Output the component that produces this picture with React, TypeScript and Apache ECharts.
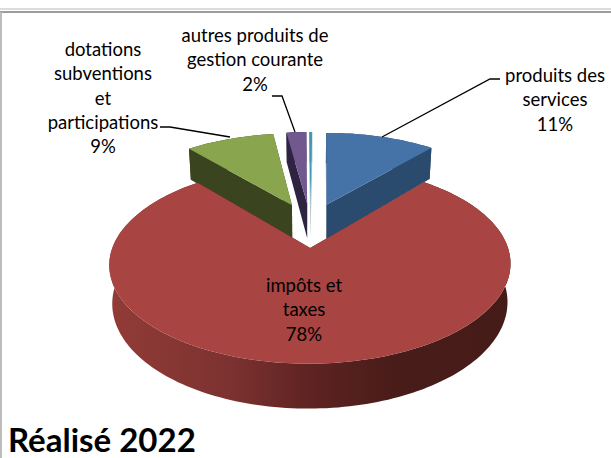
import React, { useEffect, useRef } from "react";
import * as echarts from "echarts";

const titleText = "Réalisé 2022";
const categories = [
  "produits des\nservices",
  "impôts et\ntaxes",
  "dotations\nsubventions\net\nparticipations",
  "autres produits de\ngestion courante",
  "",
];
const values = [11.1, 77.7, 8.9, 2.0, 0.3];
const topColors = ["#4572A7", "#A84441", "#89A54E", "#71588F", "#4198AF"];
const wallColors = ["#2A4A6E", "#4A1C19", "#3A451F", "#2E2340", "#9fb4bd"];

// Layout of the drawing (not data)
const view = { cx: 310, cy: 224.8, K: 190, Q: 89, p: 0.159, explode: 0.25, depth: 36, shrink: 0.985, skew: 1.7 };
const labelBoxes = [
  { x: 555, y: 75 },
  { x: 304, y: 285 },
  { x: 103, y: 49 },
  { x: 255, y: 35 },
];
const leaders = [
  [[500, 79], [490, 79], [382, 137]],
  null,
  [[160, 127], [170, 127], [230, 137]],
  [[272, 96], [282, 96], [295, 132]],
  null,
];
const lineHeight = 24.3;
const fontFamily = "Lato, Carlito, sans-serif";

const project = (X: number, Y: number, low: boolean) => {
  const w = 1 - view.p * Y;
  const s = low ? view.shrink : 1;
  return [
    view.cx + (s * view.K * X) / w + view.skew * (0.25 - Y),
    view.cy + (view.Q * Y) / w + (low ? view.depth / w : 0),
  ];
};

function renderSlice(params: any) {
  const i = params.dataIndex;
  const total = values.reduce((a, b) => a + b, 0);
  let before = 0;
  for (let k = 0; k < i; k++) before += values[k];
  const a0 = (before / total) * Math.PI * 2;
  const a1 = ((before + values[i]) / total) * Math.PI * 2;
  const mid = (a0 + a1) / 2;
  const ox = Math.sin(mid) * view.explode;
  const oy = -Math.cos(mid) * view.explode;
  const rim = (low: boolean) => {
    const n = Math.max(4, Math.ceil((a1 - a0) * 40));
    const pts: number[][] = [];
    for (let k = 0; k <= n; k++) {
      const a = a0 + ((a1 - a0) * k) / n;
      pts.push(project(ox + Math.sin(a), oy - Math.cos(a), low));
    }
    return pts;
  };
  const apexTop = project(ox, oy, false);
  const apexLow = project(ox, oy, true);
  const top = rim(false);
  const low = rim(true);
  const base = i === 1 ? 100 : 10;
  const wallFill: any =
    i === 1
      ? new echarts.graphic.LinearGradient(
          109, 0, 511, 0,
          [
            { offset: 0, color: "#923B37" },
            { offset: 0.3, color: "#7C3230" },
            { offset: 0.5, color: "#5E2322" },
            { offset: 0.72, color: "#481C19" },
            { offset: 1, color: "#451B18" },
          ],
          true
        )
      : wallColors[i];
  const children: any[] = [
    {
      type: "polygon", z2: base,
      shape: { points: [apexTop, top[0], low[0], apexLow] },
      style: { fill: wallColors[i] },
    },
    {
      type: "polygon", z2: base,
      shape: { points: [apexTop, top[top.length - 1], low[low.length - 1], apexLow] },
      style: { fill: wallColors[i] },
    },
    {
      type: "polygon", z2: base + 1,
      shape: { points: [...top, ...low.slice().reverse()] },
      style: { fill: wallFill },
    },
    {
      type: "polygon", z2: base + 2,
      shape: { points: [apexTop, ...top] },
      style: { fill: topColors[i] },
    },
  ];
  const leader = leaders[i];
  if (leader) {
    children.push({
      type: "polyline", z2: 200,
      shape: { points: leader },
      style: { stroke: "#000", lineWidth: 1.3, fill: "none" },
    });
  }
  const box = labelBoxes[i];
  if (box) {
    children.push({
      type: "text", z2: 300,
      style: {
        text: `${categories[i]}\n${Math.round((values[i] / total) * 100)}%`,
        x: box.x,
        y: box.y - lineHeight / 2,
        align: "center",
        verticalAlign: "top",
        fill: "#000",
        font: `18.5px ${fontFamily}`,
        lineHeight,
      },
    });
  }
  return { type: "group", children };
}

export default function App() {
  const ref = useRef<HTMLDivElement>(null);
  useEffect(() => {
    document.body.style.margin = "0";
    const chart = echarts.init(ref.current!, null, { renderer: "svg" });
    chart.setOption({
      animation: false,
      backgroundColor: "#fff",
      title: {
        text: titleText,
        left: 8,
        top: 422,
        textStyle: { fontFamily, fontWeight: "bold", fontSize: 33, color: "#000" },
        padding: 0,
      },
      graphic: [
        { type: "line", shape: { x1: 0, y1: 9, x2: 611, y2: 9 }, style: { stroke: "#dcdcdc", lineWidth: 2 } },
        { type: "line", shape: { x1: 0, y1: 12, x2: 611, y2: 12 }, style: { stroke: "#9c9c9c", lineWidth: 2 } },
        { type: "line", shape: { x1: 1, y1: 12, x2: 1, y2: 458 }, style: { stroke: "#bdbdbd", lineWidth: 2 } },
      ],
      series: [
        {
          type: "custom",
          coordinateSystem: "none",
          silent: true,
          renderItem: renderSlice,
          data: values.map((v, i) => ({ value: v, name: categories[i] })),
        },
      ],
    });
    return () => chart.dispose();
  }, []);
  return <div ref={ref} style={{ width: 611, height: 458 }} />;
}
